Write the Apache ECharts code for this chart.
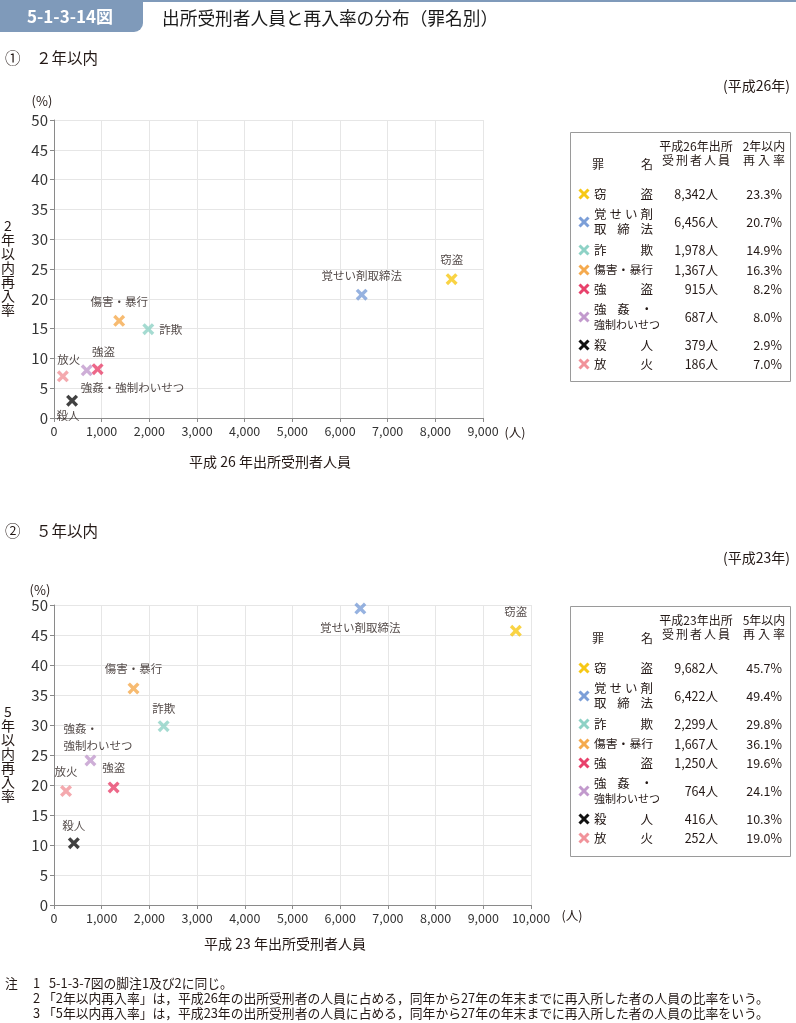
<!DOCTYPE html>
<html><head><meta charset="utf-8">
<script src="https://cdn.jsdelivr.net/npm/echarts@6/dist/echarts.min.js"></script>
<style>html,body{margin:0;padding:0;background:#fff}#c{width:796px;height:1023px}</style>
</head><body><div id="c"></div><script>
// ---- data ----
const crimes = ['窃盗','覚せい剤取締法','詐欺','傷害・暴行','強盗','強姦・強制わいせつ','殺人','放火'];
const chartLabels1 = ['窃盗','覚せい剤取締法','詐欺','傷害・暴行','強盗','強姦・強制わいせつ','殺人','放火'];
const chartLabels2 = ['窃盗','覚せい剤取締法','詐欺','傷害・暴行','強盗','強姦・\n強制わいせつ','殺人','放火'];
const tableNameLines = [['窃盗'],['覚せい剤','取締法'],['詐欺'],['傷害・暴行'],['強盗'],['強姦・','強制わいせつ'],['殺人'],['放火']];
const colors = ['#F7C815','#7C9FD8','#8ED2C6','#F5AA4E','#E8426C','#C29ACD','#111111','#F1939A'];
const peopleH26 = [8342,6456,1978,1367,915,687,379,186];
const rate2yr = [23.3,20.7,14.9,16.3,8.2,8.0,2.9,7.0];
const peopleH23 = [9682,6422,2299,1667,1250,764,416,252];
const rate5yr = [45.7,49.4,29.8,36.1,19.6,24.1,10.3,19.0];

// ---- styling ----
const FONT = '"Noto Sans CJK JP","Noto Sans",sans-serif';
const XSYM = 'path://M2,0 L5,3 L8,0 L10,2 L7,5 L10,8 L8,10 L5,7 L2,10 L0,8 L3,5 L0,2 Z';
const TXT = '#231815';
const labelPos1 = [
  {position:'top'},{position:'top'},{position:'right'},{position:'top'},
  {position:'top',offset:[6,2]},{position:'bottom',align:'left',offset:[-6,-2]},
  {position:'bottom',offset:[-4,-5]},{position:'top',offset:[6,3]}
];
const labelPos2 = [
  {position:'top'},{position:'bottom'},{position:'top',offset:[0,2]},{position:'top'},
  {position:'top'},{position:'top',align:'left',offset:[-27,5]},
  {position:'top',offset:[0,2]},{position:'top'}
];

function axisCommon(){
  return {
    type:'value',
    axisLine:{show:true,onZero:false,lineStyle:{color:'#8a8a8a',width:1}},
    axisTick:{show:true,length:4,lineStyle:{color:'#8a8a8a'}},
    splitLine:{show:true,lineStyle:{color:'#e6e6e6',width:1}},
  };
}
const fmt = v => v.toLocaleString('en-US');

const series = [];
function addSeries(idx, xs, ys, labels, pos){
  crimes.forEach((c,i)=>{
    series.push({
      type:'scatter', name:c, xAxisIndex:idx, yAxisIndex:idx,
      data:[[xs[i], ys[i]]],
      symbol:XSYM, symbolSize:12,
      itemStyle:{color:colors[i]},
      label:Object.assign({show:true, formatter:labels[i], color:TXT, fontSize:11.5, fontFamily:FONT, lineHeight:17, distance:5}, pos[i]),
      z: 3
    });
  });
}
addSeries(0, peopleH26, rate2yr, chartLabels1, labelPos1);
addSeries(1, peopleH23, rate5yr, chartLabels2, labelPos2);

// ---- graphic helpers ----
const G = [];
function t(x,y,text,o){
  o = o||{};
  G.push({type:'text', x:x, y:y, z:10, style:{text:text, fill:o.fill||TXT, fontSize:o.size||12, fontFamily:o.family||FONT,
    fontWeight:o.weight||'normal', align:o.align||'left', verticalAlign:'middle', lineHeight:o.lh}});
}
function justify(str, x0, x1, y, size){
  const ch = Array.from(str);
  if(ch.length===1){ t(x0,y,str,{size:size}); return; }
  const step = (x1-x0-size)/(ch.length-1);
  ch.forEach((c,i)=> t(x0+size/2+i*step, y, c, {size:size, align:'center'}));
}
function xMark(x,y,color){
  const d=4.5;
  G.push({type:'line', z:10, shape:{x1:x-d,y1:y-d,x2:x+d,y2:y+d}, style:{stroke:color,lineWidth:3}});
  G.push({type:'line', z:10, shape:{x1:x-d,y1:y+d,x2:x+d,y2:y-d}, style:{stroke:color,lineWidth:3}});
}
function table(base, yearLbl, rateLbl, people, rates, boxH){
  G.push({type:'rect', z:9, shape:{x:570.5,y:base-13.5,width:220,height:boxH}, style:{fill:'#fff',stroke:'#9a9a9a',lineWidth:1}});
  t(696, base, yearLbl, {size:12, align:'center'});
  justify('受刑者人員', 662, 730, base+14, 12);
  t(764, base, rateLbl, {size:12, align:'center'});
  justify('再入率', 743, 785, base+14, 12);
  t(592, base+18, '罪', {size:12});
  t(641, base+18, '名', {size:12});
  const rowY = [48, 76, 104, 124, 143, 171, 199, 218];
  tableNameLines.forEach((lines,i)=>{
    const cy = base + rowY[i];
    xMark(584, cy, colors[i]);
    lines.forEach((ln,j)=>{
      const ly = lines.length===1 ? cy : cy + (j===0?-7.5:7.5);
      const n = Array.from(ln).length;
      if(n>=6) t(594, ly, ln, {size:11});
      else if(n===5) t(594, ly, ln, {size:11.8});
      else justify(ln, 594, 653, ly, 12.5);
    });
    t(718, cy, fmt(people[i])+'人', {size:12.5, align:'right'});
    t(782, cy, rates[i].toFixed(1)+'%', {size:12.5, align:'right'});
  });
}

// header
G.push({type:'rect', z:5, shape:{x:0,y:0,width:796,height:2}, style:{fill:'#7f9aba'}});
G.push({type:'rect', z:5, shape:{x:0,y:0,width:143,height:32,r:[0,0,9,0]}, style:{fill:'#7f9aba'}});
t(70, 17, '5-1-3-14図', {size:17, weight:'bold', fill:'#fff', align:'center'});
t(162, 18, '出所受刑者人員と再入率の分布（罪名別）', {size:17.7, fill:'#1a1a1a'});

// section 1
t(5, 58, '①', {size:15.5});
t(36, 58, '２年以内', {size:15.5});
t(790, 86, '(平成26年)', {size:14, align:'right'});
t(42, 101, '(%)', {size:13, align:'center'});
t(8, 268, '2\n年\n以\n内\n再\n入\n率', {size:14, align:'center', lh:14});
t(515, 432, '(人)', {size:12.5, align:'center'});
t(270, 462, '平成 26 年出所受刑者人員', {size:14, align:'center'});
table(146, '平成26年出所', '2年以内', peopleH26, rate2yr, 249);

// section 2
t(5, 531, '②', {size:15.5});
t(36, 531, '５年以内', {size:15.5});
t(790, 558, '(平成23年)', {size:14, align:'right'});
t(40, 590, '(%)', {size:13, align:'center'});
t(8, 754, '5\n年\n以\n内\n再\n入\n率', {size:14, align:'center', lh:14});
t(572, 915, '(人)', {size:12.5, align:'center'});
t(285, 944, '平成 23 年出所受刑者人員', {size:14, align:'center'});
table(620, '平成23年出所', '5年以内', peopleH23, rate5yr, 250);

// notes
const NS = 12.8;
t(5, 983, '注', {size:NS});
t(33, 983, '1', {size:NS});
t(49, 983, '5-1-3-7図の脚注1及び2に同じ。', {size:NS});
t(33, 998, '2', {size:NS});
t(43, 998, '「2年以内再入率」は，平成26年の出所受刑者の人員に占める，同年から27年の年末までに再入所した者の人員の比率をいう。', {size:NS});
t(33, 1013, '3', {size:NS});
t(43, 1013, '「5年以内再入率」は，平成23年の出所受刑者の人員に占める，同年から27年の年末までに再入所した者の人員の比率をいう。', {size:NS});

const xLabel = {color:'#333', fontSize:12.5, fontFamily:FONT, margin:7, formatter:fmt};
const yLabel = {color:'#333', fontSize:15, fontFamily:FONT, margin:6};

const option = {
  animation:false,
  backgroundColor:'#fff',
  textStyle:{fontFamily:FONT},
  grid:[
    {left:54, top:120, width:429, height:298},
    {left:54, top:605, width:477, height:300}
  ],
  xAxis:[
    Object.assign(axisCommon(), {gridIndex:0, min:0, max:9000, interval:1000, axisLabel:xLabel}),
    Object.assign(axisCommon(), {gridIndex:1, min:0, max:10000, interval:1000, axisLabel:xLabel})
  ],
  yAxis:[
    Object.assign(axisCommon(), {gridIndex:0, min:0, max:50, interval:5, axisLabel:yLabel}),
    Object.assign(axisCommon(), {gridIndex:1, min:0, max:50, interval:5, axisLabel:yLabel})
  ],
  series:series,
  graphic:G
};
const chart = echarts.init(document.getElementById('c'), null, {renderer:'canvas'});
chart.setOption(option);
</script></body></html>
